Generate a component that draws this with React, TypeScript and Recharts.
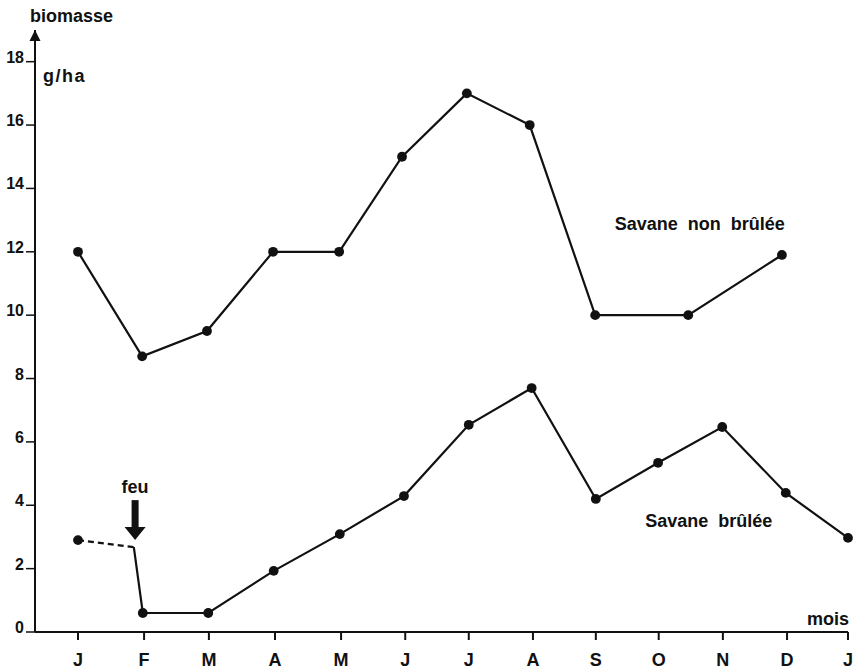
import { LineChart, Line, XAxis, YAxis, ReferenceDot } from "recharts"

// month letters and where their ticks sit
const months = ["J", "F", "M", "A", "M", "J", "J", "A", "S", "O", "N", "D", "J"]
const monthTicks = [0, 1.03, 2.04, 3.07, 4.1, 5.1, 6.09, 7.09, 8.07, 9.05, 10.05, 11.05, 12]
const yTicks = [0, 2, 4, 6, 8, 10, 12, 14, 16, 18]

// savane non brûlée
const unburnedX = [0, 1, 2.01, 3.04, 4.07, 5.05, 6.06, 7.04, 8.06, 9.51, 10.97]
const unburnedY = [12, 8.7, 9.5, 12, 12, 15, 17, 16, 10, 10, 11.9]

// savane brûlée, before the fire (dashed)
const beforeFireX = [0, 0.87]
const beforeFireY = [2.9, 2.68]

// savane brûlée, after the fire
const burnedX = [0.87, 1.01, 2.03, 3.05, 4.08, 5.08, 6.09, 7.07, 8.07, 9.04, 10.04, 11.03, 12]
const burnedY = [2.68, 0.6, 0.6, 1.93, 3.09, 4.29, 6.54, 7.7, 4.2, 5.34, 6.47, 4.39, 2.97]

const rows = (xs: number[], ys: number[]) => xs.map((x, i) => ({ x, y: ys[i] }))

const FONT = "'Liberation Sans', Arial, sans-serif"
const INK = "#111"

const dotSkipping = (skip: number) => (p: any) =>
  p.index === skip ? <g key={"d" + p.index} /> : <circle key={"d" + p.index} cx={p.cx} cy={p.cy} r={4.9} fill={INK} />

const MonthTick = (p: any) => (
  <text x={p.x} y={p.y + 26} textAnchor="middle" fontFamily={FONT} fontWeight="bold" fontSize={18} fill={INK}>
    {months[p.index]}
  </text>
)

const ValueTick = (p: any) => (
  <text x={p.x} y={p.y + 1} textAnchor="end" fontFamily={FONT} fontWeight="bold" fontSize={16} fill={INK}>
    {p.payload.value}
  </text>
)

const txt = { fontFamily: FONT, fontWeight: "bold" as const, fill: INK }

const App = () => {
  return (
    <div style={{ position: "absolute", left: 0, top: 0, background: "#fff" }}>
      <LineChart width={853} height={671} margin={{ top: 30, right: 5, bottom: 0, left: 0 }}>
        <XAxis
          type="number"
          dataKey="x"
          domain={[-0.67, 12]}
          ticks={monthTicks}
          interval={0}
          tick={<MonthTick />}
          tickSize={8}
          tickMargin={0}
          height={39}
          axisLine={{ stroke: INK, strokeWidth: 2 }}
          tickLine={{ stroke: INK, strokeWidth: 2 }}
        />
        <YAxis
          type="number"
          dataKey="y"
          domain={[0, 19]}
          ticks={yTicks}
          interval={0}
          width={35}
          tick={<ValueTick />}
          tickSize={9}
          tickMargin={2}
          axisLine={{ stroke: INK, strokeWidth: 2 }}
          tickLine={{ stroke: INK, strokeWidth: 1.5 }}
        />

        <Line
          data={rows(unburnedX, unburnedY)}
          dataKey="y"
          stroke={INK}
          strokeWidth={2.2}
          dot={dotSkipping(-1)}
          isAnimationActive={false}
        />
        <Line
          data={rows(beforeFireX, beforeFireY)}
          dataKey="y"
          stroke={INK}
          strokeWidth={2.2}
          strokeDasharray="6 4"
          dot={dotSkipping(1)}
          isAnimationActive={false}
        />
        <Line
          data={rows(burnedX, burnedY)}
          dataKey="y"
          stroke={INK}
          strokeWidth={2.2}
          dot={dotSkipping(0)}
          isAnimationActive={false}
        />

        {/* arrow on the value axis, title and unit */}
        <ReferenceDot
          x={-0.67}
          y={19}
          ifOverflow="visible"
          shape={(p: any) => (
            <g>
              <polygon points={`${p.cx},${p.cy} ${p.cx - 5.5},${p.cy + 11} ${p.cx + 5.5},${p.cy + 11}`} fill={INK} />
              <text x={p.cx - 5} y={p.cy - 8} fontSize={18} {...txt}>biomasse</text>
              <text x={p.cx + 8} y={p.cy + 52} fontSize={18} letterSpacing={1.5} {...txt}>g/ha</text>
            </g>
          )}
        />
        <ReferenceDot
          x={12}
          y={0}
          ifOverflow="visible"
          shape={(p: any) => (
            <text x={p.cx + 1} y={p.cy - 7} textAnchor="end" fontSize={18} {...txt}>mois</text>
          )}
        />

        {/* fire arrow */}
        <ReferenceDot
          x={0.89}
          y={2.9}
          ifOverflow="visible"
          shape={(p: any) => (
            <g>
              <rect x={p.cx - 3.5} y={p.cy - 40} width={7} height={28} fill={INK} />
              <polygon points={`${p.cx},${p.cy} ${p.cx - 10.5},${p.cy - 13} ${p.cx + 10.5},${p.cy - 13}`} fill={INK} />
              <text x={p.cx} y={p.cy - 47} textAnchor="middle" fontSize={18} {...txt}>feu</text>
            </g>
          )}
        />

        {/* series labels */}
        <ReferenceDot
          x={9.69}
          y={12.69}
          ifOverflow="visible"
          shape={(p: any) => (
            <text x={p.cx} y={p.cy} textAnchor="middle" fontSize={18} wordSpacing={5} {...txt}>Savane non brûlée</text>
          )}
        />
        <ReferenceDot
          x={9.83}
          y={3.32}
          ifOverflow="visible"
          shape={(p: any) => (
            <text x={p.cx} y={p.cy} textAnchor="middle" fontSize={18} wordSpacing={5} {...txt}>Savane brûlée</text>
          )}
        />
      </LineChart>
    </div>
  )
}

export default App
